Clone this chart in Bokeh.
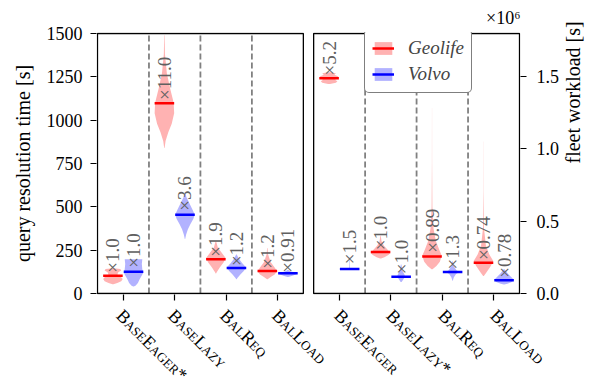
import math
from bokeh.plotting import figure
from bokeh.models import (Range1d, LinearAxis, FixedTicker, CustomJSTickFormatter,
                          Legend, LegendItem, Label)
from bokeh.layouts import column
from bokeh.core.properties import value
from bokeh.embed import file_html
from bokeh.resources import INLINE

# ---------------- data ----------------
labels_query = ["BaseEager*", "BaseLazy", "BalReq", "BalLoad"]
labels_fleet = ["BaseEager", "BaseLazy*", "BalReq", "BalLoad"]
series_names = ["Geolife", "Volvo"]

# query resolution time [s]
query_median_geolife = [102, 1097, 197, 130]
query_median_volvo = [126, 455, 147, 117]
query_mean_geolife = [149, 1145, 241, 172]
query_mean_volvo = [178, 506, 187, 149]
query_factor_geolife = ["1.0", "11.0", "1.9", "1.2"]
query_factor_volvo = ["1.0", "3.6", "1.2", "0.91"]

# fleet workload [s]
fleet_median_geolife = [1.486e6, 0.287e6, 0.256e6, 0.213e6]
fleet_median_volvo = [0.169e6, 0.115e6, 0.149e6, 0.092e6]
fleet_mean_geolife = [1.539e6, 0.334e6, 0.316e6, 0.265e6]
fleet_mean_volvo = [0.236e6, 0.167e6, 0.201e6, 0.144e6]
fleet_factor_geolife = ["5.2", "1.0", "0.89", "0.74"]
fleet_factor_volvo = ["1.5", "1.0", "1.3", "0.78"]

# violin outlines: (value, relative half width)
query_shape_geolife = [
    [(146, 0.05), (141, 0.75), (133, 0.85), (122, 0.55), (110, 0.45), (96, 0.8),
     (83, 1.0), (70, 0.85), (60, 0.45), (54, 0.05)],
    [(1490, 0.02), (1380, 0.06), (1270, 0.25), (1180, 0.6), (1100, 0.95), (1040, 1.0),
     (980, 0.75), (930, 0.4), (880, 0.12), (840, 0.02)],
    [(302, 0.03), (265, 0.2), (235, 0.6), (205, 1.0), (180, 0.8), (150, 0.4),
     (125, 0.12), (115, 0.02)],
    [(263, 0.02), (225, 0.08), (180, 0.35), (150, 0.75), (128, 1.0), (110, 0.75),
     (95, 0.35), (82, 0.03)],
]
query_shape_volvo = [
    [(198, 0.02), (197, 0.9), (170, 0.85), (140, 0.9), (120, 1.0), (100, 0.8),
     (80, 0.6), (60, 0.45), (45, 0.2), (40, 0.02)],
    [(582, 0.03), (555, 0.15), (520, 0.45), (480, 0.8), (455, 1.0), (430, 0.85),
     (400, 0.55), (370, 0.3), (340, 0.12), (315, 0.02)],
    [(225, 0.03), (200, 0.25), (175, 0.6), (150, 1.0), (130, 0.75), (110, 0.4),
     (90, 0.1), (82, 0.02)],
    [(135, 0.03), (127, 0.3), (120, 0.85), (114, 1.0), (106, 0.6), (100, 0.3),
     (95, 0.03)],
]
fleet_shape_geolife = [
    [(1.527e6, 0.1), (1.52e6, 0.7), (1.51e6, 0.55), (1.50e6, 0.9), (1.486e6, 1.0),
     (1.475e6, 0.6), (1.465e6, 0.85), (1.455e6, 0.7), (1.447e6, 0.1)],
    [(0.40e6, 0.02), (0.36e6, 0.1), (0.33e6, 0.35), (0.30e6, 0.75), (0.28e6, 1.0),
     (0.265e6, 0.8), (0.25e6, 0.4), (0.242e6, 0.05)],
    [(1.28e6, 0.006), (0.9e6, 0.012), (0.6e6, 0.04), (0.45e6, 0.15), (0.36e6, 0.4),
     (0.30e6, 0.75), (0.26e6, 1.0), (0.22e6, 0.8), (0.19e6, 0.45), (0.168e6, 0.05)],
    [(1.05e6, 0.006), (0.7e6, 0.012), (0.45e6, 0.05), (0.33e6, 0.25), (0.27e6, 0.6),
     (0.225e6, 1.0), (0.19e6, 0.75), (0.15e6, 0.35), (0.12e6, 0.04)],
]
fleet_shape_volvo = [
    [(0.25e6, 0.02), (0.2e6, 0.03), (0.17e6, 0.04), (0.165e6, 0.01)],
    [(0.20e6, 0.03), (0.16e6, 0.12), (0.13e6, 0.35), (0.115e6, 0.4), (0.10e6, 0.25),
     (0.08e6, 0.05)],
    [(0.225e6, 0.02), (0.19e6, 0.1), (0.16e6, 0.4), (0.148e6, 0.7), (0.135e6, 0.35),
     (0.11e6, 0.12), (0.088e6, 0.02)],
    [(0.168e6, 0.05), (0.14e6, 0.35), (0.115e6, 0.7), (0.095e6, 1.0), (0.08e6, 0.8),
     (0.068e6, 0.35), (0.062e6, 0.03)],
]

query_ticks = [0, 250, 500, 750, 1000, 1250, 1500]
fleet_ticks = [0, 0.5e6, 1.0e6, 1.5e6]
QUERY_MAX = 1500
FLEET_MAX = 1.795e6

# ---------------- layout / style (canvas pixels) ----------------
FONT = "Liberation Serif"
FIG_W = 598
PANEL_LEFT, PANEL_W = 97, 426
PANEL_TOP, PANEL_H = 31, 262
MAIN_H = 304
STRIP_H = 80
PAD = 1                                  # plot frame is 1px larger than the panels
BORDER_L = PANEL_LEFT - PAD
BORDER_R = FIG_W - (PANEL_LEFT + PANEL_W + PAD)
GAP = 0.2
SHIFT = 4 + GAP
XMIN, XMAX = -0.5, SHIFT + 3.5
PPU = PANEL_W / (XMAX - XMIN)
OFFSETS = [-0.2, 0.2]
HALF = 0.19
COLORS = ["red", "blue"]

xpad = PAD / PPU
qpad = QUERY_MAX * PAD / PANEL_H
fpad = FLEET_MAX * PAD / PANEL_H

p = figure(width=FIG_W, height=MAIN_H,
           x_range=Range1d(XMIN - xpad, XMAX + xpad), y_range=Range1d(-qpad, QUERY_MAX + qpad),
           min_border_left=BORDER_L, min_border_right=BORDER_R,
           min_border_top=PANEL_TOP - PAD,
           min_border_bottom=MAIN_H - PANEL_TOP - PANEL_H - PAD,
           output_backend="svg", toolbar_location=None,
           x_axis_location=None, y_axis_location=None, align="start")
p.extra_y_ranges = {"fleet": Range1d(-fpad, FLEET_MAX + fpad)}
p.grid.visible = False
p.outline_line_color = None
p.background_fill_color = "white"
p.border_fill_color = "white"

# offset text of the right axis
p.title.text = "×10⁶"
p.title.align = "right"
p.title.vertical_align = "bottom"
p.title.text_font = FONT
p.title.text_font_size = "18px"
p.title.text_font_style = "normal"
p.title.text_color = "black"


def style_axis(ax):
    ax.axis_line_color = None
    ax.major_tick_line_color = "black"
    ax.major_tick_line_width = 1.2
    ax.major_tick_out = 6
    ax.major_tick_in = 0
    ax.minor_tick_line_color = None
    ax.major_label_text_font = FONT
    ax.major_label_text_font_size = "18px"
    ax.major_label_text_color = "black"
    ax.axis_label_text_font = FONT
    ax.axis_label_text_font_size = "20px"
    ax.axis_label_text_font_style = "normal"
    ax.axis_label_text_color = "black"


tick_pos = [i for i in range(4)] + [SHIFT + i for i in range(4)]
all_labels = labels_query + labels_fleet

xax = LinearAxis(ticker=FixedTicker(ticks=tick_pos),
                 formatter=CustomJSTickFormatter(code='return ""'))
style_axis(xax)
xax.major_label_standoff = 0
xax.major_label_text_font_size = "1px"
p.add_layout(xax, "below")

yax = LinearAxis(ticker=FixedTicker(ticks=query_ticks), axis_label="query resolution time [s]")
style_axis(yax)
yax.major_label_standoff = 8
yax.axis_label_standoff = 10
p.add_layout(yax, "left")

rax = LinearAxis(y_range_name="fleet", ticker=FixedTicker(ticks=fleet_ticks),
                 formatter=CustomJSTickFormatter(code="return (tick/1e6).toFixed(1)"),
                 axis_label="fleet workload [s]")
style_axis(rax)
rax.major_label_standoff = 10
rax.axis_label_standoff = 11
if "axis_label_orientation" in rax.properties():
    rax.axis_label_orientation = math.pi / 2
    rax.axis_label_text_align = "center"
p.add_layout(rax, "right")

# dashed separators between categories
sep_x = [i + 0.5 for i in range(3)] + [SHIFT + i + 0.5 for i in range(3)]
p.segment(x0=sep_x, y0=0, x1=sep_x, y1=QUERY_MAX, line_color="gray",
          line_width=1.8, line_dash="6 3")


def outline(center, shape):
    xs = [center + w * HALF for v, w in shape] + [center - w * HALF for v, w in reversed(shape)]
    ys = [v for v, w in shape] + [v for v, w in reversed(shape)]
    return xs, ys


panels = [
    (0.0, "default", [query_shape_geolife, query_shape_volvo],
     [query_median_geolife, query_median_volvo], [query_mean_geolife, query_mean_volvo],
     [query_factor_geolife, query_factor_volvo]),
    (SHIFT, "fleet", [fleet_shape_geolife, fleet_shape_volvo],
     [fleet_median_geolife, fleet_median_volvo], [fleet_mean_geolife, fleet_mean_volvo],
     [fleet_factor_geolife, fleet_factor_volvo]),
]

legend_renderers = {0: [], 1: []}
for shift, rng, shapes, medians, means, factors in panels:
    for s in range(2):
        centers = [shift + i + OFFSETS[s] for i in range(4)]
        xs_list, ys_list = [], []
        for c, shape in zip(centers, shapes[s]):
            xs, ys = outline(c, shape)
            xs_list.append(xs)
            ys_list.append(ys)
        rp = p.patches(xs=xs_list, ys=ys_list, fill_color=COLORS[s], fill_alpha=0.3,
                       line_color=None, y_range_name=rng)
        rm = p.segment(x0=[c - HALF for c in centers], x1=[c + HALF for c in centers],
                       y0=medians[s], y1=medians[s], line_color=COLORS[s], line_width=2.5,
                       y_range_name=rng)
        p.text(x=centers, y=means[s], text=["×" + f for f in factors[s]],
               angle=math.pi / 2, text_align="left", text_baseline="middle", y_offset=5,
               text_font=value(FONT), text_font_size="19px", text_color="#606060",
               y_range_name=rng)
        if shift == 0.0:
            legend_renderers[s] = [rp, rm]

# panel frames (drawn inside the slightly larger plot frame)
p.quad(left=[XMIN, SHIFT - 0.5], right=[3.5, XMAX], bottom=0, top=QUERY_MAX,
       fill_color=None, line_color="black", line_width=1.3)

legend = Legend(items=[LegendItem(label=series_names[0], renderers=legend_renderers[0]),
                       LegendItem(label=series_names[1], renderers=legend_renderers[1])],
                location=(268, 201))
legend.border_line_color = "black"
legend.border_line_width = 1.3
legend.background_fill_color = "white"
legend.background_fill_alpha = 1.0
legend.label_text_font = FONT
legend.label_text_font_style = "italic"
legend.label_text_font_size = "19px"
legend.glyph_width = 22
legend.glyph_height = 16
legend.label_height = 16
legend.spacing = 4
legend.padding = 7
legend.margin = 0
legend.label_standoff = 14
if "border_radius" in Legend.properties():
    legend.border_radius = 5
p.add_layout(legend)

# category labels in a strip below, rendered in small caps
strip_kw = dict(width=FIG_W, height=STRIP_H, y_range=Range1d(0, 1),
                min_border_top=0, min_border_bottom=0,
                output_backend="svg", toolbar_location=None,
                x_axis_location=None, y_axis_location=None, align="start")
if "frame_align" in p.properties():
    p.frame_align = False
    p2 = figure(x_range=Range1d(XMIN - PANEL_LEFT / PPU, XMIN + (FIG_W - PANEL_LEFT) / PPU),
                min_border_left=0, min_border_right=0, **strip_kw)
    p2.frame_align = False
else:
    p2 = figure(x_range=p.x_range, min_border_left=BORDER_L, min_border_right=BORDER_R,
                **strip_kw)
p2.grid.visible = False
p2.outline_line_color = None
p2.background_fill_color = "white"
p2.border_fill_color = "white"
p2.styles = {"font-variant": "small-caps"}
for xpos, lab in zip(tick_pos, all_labels):
    p2.add_layout(Label(x=xpos, y=1, text=lab, angle=-math.pi / 4, text_align="left",
                        text_baseline="top", x_offset=3, y_offset=-1, text_font=FONT,
                        text_font_size="18px", text_color="black"))

layout = column(p, p2, align="start")
open("out.html", "w").write(file_html(layout, INLINE))
